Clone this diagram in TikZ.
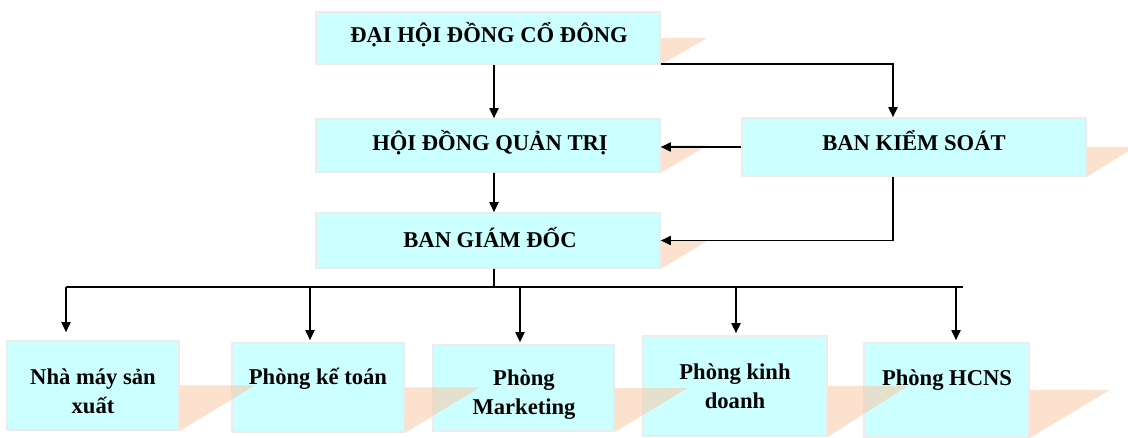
\documentclass[tikz,border=0pt]{standalone}
\usepackage{fontspec}
\setmainfont{Liberation Serif}
\usetikzlibrary{arrows.meta}
\definecolor{boxfill}{RGB}{204,255,255}
\definecolor{boxline}{RGB}{236,236,236}
\definecolor{shadc}{RGB}{248,200,165}
\tikzset{
  box/.style={draw=boxline, line width=1.6pt, fill=boxfill, rectangle, inner sep=0pt},
  lbl/.style={font=\fontsize{22.6}{29}\selectfont\bfseries, align=center, inner sep=0pt},
  shad/.style={fill=shadc, fill opacity=0.55},
  conn/.style={line width=1.8pt, black},
  arr/.style={conn, -{Triangle[length=10pt,width=9pt]}}
}
\begin{document}
\begin{tikzpicture}[x=1pt,y=-1pt]
\useasboundingbox (0,0) rectangle (1128,438);
% boxes
\node[box, minimum width=344, minimum height=52] (dh) at (488,38) {};
\node[box, minimum width=344, minimum height=53] (hd) at (488,145.5) {};
\node[box, minimum width=344, minimum height=58] (bks) at (914,147) {};
\node[box, minimum width=344, minimum height=55] (bgd) at (488,240.5) {};
\node[box, minimum width=172, minimum height=89] (b1) at (93,385.5) {};
\node[box, minimum width=172, minimum height=89] (b2) at (318,387.5) {};
\node[box, minimum width=181, minimum height=86] (b3) at (523.5,388) {};
\node[box, minimum width=184, minimum height=100] (b4) at (735,386) {};
\node[box, minimum width=165, minimum height=94] (b5) at (946.5,390) {};
% shadows
\fill[shad] (dh.east) -- ++(46,0) -- (dh.south east) -- cycle;
\fill[shad] (hd.east) -- ++(46,0) -- (hd.south east) -- cycle;
\fill[shad] (bks.east) -- ++(48,0) -- (bks.south east) -- cycle;
\fill[shad] (bgd.east) -- ++(47,0) -- (bgd.south east) -- cycle;
\fill[shad] (b1.east) -- ++(75,0) -- (b1.south east) -- cycle;
\fill[shad] (b2.east) -- ++(75,0) -- (b2.south east) -- cycle;
\fill[shad] (b3.east) -- ++(73,0) -- (b3.south east) -- cycle;
\fill[shad] (b4.east) -- ++(80,0) -- (b4.south east) -- cycle;
\fill[shad] (b5.east) -- ++(80,0) -- (b5.south east) -- cycle;
% connectors
\coordinate (cx) at (494,0);
\coordinate (rx) at (893,0);
\coordinate (bus) at (0,287);
\coordinate (j1) at (66,287);
\coordinate (j2) at (310,287);
\coordinate (j3) at (520,287);
\coordinate (j4) at (736,287);
\coordinate (j5) at (956,287);
\coordinate (jend) at (963,287);
\draw[arr] (dh.south -| cx) -- (hd.north -| cx);
\draw[arr] ([yshift=1pt]dh.south east) -| (rx |- bks.north);
\draw[arr] (bks.west) -- (hd.east |- bks.west);
\draw[arr] (rx |- bks.south) |- (bgd.east);
\draw[arr] (hd.south -| cx) -- (bgd.north -| cx);
\draw[conn] (bgd.south -| cx) -- (cx |- bus);
\draw[conn] (j1) -- (jend);
\draw[arr] (j1) -- ([yshift=8pt]j1 |- b1.north);
\draw[arr] (j2) -- ([yshift=2pt]j2 |- b2.north);
\draw[arr] (j3) -- ([yshift=2pt]j3 |- b3.north);
\draw[arr] (j4) -- ([yshift=2pt]j4 |- b4.north);
\draw[arr] (j5) -- ([yshift=2pt]j5 |- b5.north);
% labels
\node[lbl] (tdh) at (489,35) {ĐẠI HỘI ĐỒNG CỔ ĐÔNG};
\node[lbl] (thd) at (490,143) {HỘI ĐỒNG QUẢN TRỊ};
\node[lbl] (tbks) at (914,141) {BAN KIỂM SOÁT};
\node[lbl] (tbgd) at (490,238) {BAN GIÁM ĐỐC};
\node[lbl] (t1) at (93,391) {Nhà máy sản\\xuất};
\node[lbl] (t2) at (318,379) {Phòng kế toán};
\node[lbl] (t3) at (524,395) {Phòng\\Marketing};
\node[lbl] (t4) at (735,386) {Phòng kinh\\doanh};
\node[lbl] (t5) at (947,380) {Phòng HCNS};
\end{tikzpicture}
\end{document}
